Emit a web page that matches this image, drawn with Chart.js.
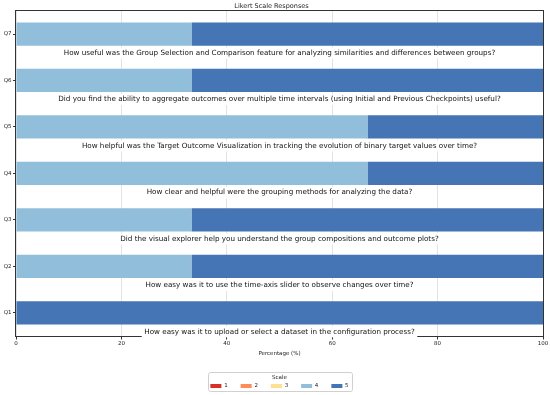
<!DOCTYPE html>
<html>
<head>
<meta charset="utf-8">
<script src="https://cdn.jsdelivr.net/npm/chart.js@4.4.1/dist/chart.umd.min.js"></script>
<style>
  html,body{margin:0;padding:0;background:#fff}
  canvas{display:block}
</style>
</head>
<body>
<canvas id="likert" width="550" height="395"></canvas>
<script>
// data (percent of respondents per answer)
const categories=['Q1','Q2','Q3','Q4','Q5','Q6','Q7'];
const questions=[
  'How easy was it to upload or select a dataset in the configuration process?',
  'How easy was it to use the time-axis slider to observe changes over time?',
  'Did the visual explorer help you understand the group compositions and outcome plots?',
  'How clear and helpful were the grouping methods for analyzing the data?',
  'How helpful was the Target Outcome Visualization in tracking the evolution of binary target values over time?',
  'Did you find the ability to aggregate outcomes over multiple time intervals (using Initial and Previous Checkpoints) useful?',
  'How useful was the Group Selection and Comparison feature for analyzing similarities and differences between groups?'
];
const scaleLabels=['1','2','3','4','5'];
const scale1=[0,0,0,0,0,0,0];
const scale2=[0,0,0,0,0,0,0];
const scale3=[0,0,0,0,0,0,0];
const scale4=[0,33.3,33.3,66.7,66.7,33.3,33.3];
const scale5=[100,66.7,66.7,33.3,33.3,66.7,66.7];
const xTicks=[0,20,40,60,80,100];
const colors=['#d73027','#fc8d59','#fee090','#91bfdb','#4575b4'];

Chart.defaults.font.family="'DejaVu Sans', sans-serif";
Chart.defaults.color='#222';

const series=[scale1,scale2,scale3,scale4,scale5];

// frame, question captions and legend box
const extras={
  id:'extras',
  afterLayout(c){
    const L=c.legend,a=c.chartArea;
    const dx=(a.left+a.right)/2-(L.left+L.right)/2;
    L.left+=dx;L.right+=dx;
  },
  afterDraw(c){
    const ctx=c.ctx,a=c.chartArea,xs=c.scales.x,ys=c.scales.y;
    ctx.save();
    ctx.strokeStyle='#333';ctx.lineWidth=1;
    ctx.strokeRect(Math.round(a.left)-0.5,Math.round(a.top)-0.5,Math.round(a.right-a.left)+1,Math.round(a.bottom-a.top)+1);

    ctx.font="7.2px 'DejaVu Sans', sans-serif";
    ctx.textAlign='center';ctx.textBaseline='middle';
    questions.forEach((q,i)=>{
      const x=xs.getPixelForValue(50),y=ys.getPixelForValue(i-0.41);
      const w=ctx.measureText(q).width;
      ctx.fillStyle='#fff';
      ctx.fillRect(x-w/2-2.5,y-5.5,w+5,11);
      ctx.fillStyle='#111';
      ctx.fillText(q,x,y);
    });

    const L=c.legend,hb=L.legendHitBoxes;
    if(hb&&hb.length){
      const last=hb[hb.length-1];
      const x0=hb[0].left-2.5,x1=last.left+last.width+3;
      const y0=hb[0].top-11.5,y1=hb[0].top+7.5;
      ctx.strokeStyle='#d0d0d0';ctx.lineWidth=1;
      ctx.beginPath();
      ctx.roundRect(Math.round(x0)+0.5,Math.round(y0)+0.5,Math.round(x1-x0),Math.round(y1-y0),2);
      ctx.stroke();
    }
    ctx.restore();
  }
};

new Chart(document.getElementById('likert'),{
  type:'bar',
  data:{
    labels:categories,
    datasets:series.map((d,i)=>({
      label:scaleLabels[i],data:d,backgroundColor:colors[i],borderWidth:0,
      barPercentage:0.5,categoryPercentage:1
    }))
  },
  options:{
    indexAxis:'y',
    responsive:false,
    animation:false,
    events:[],
    layout:{padding:{top:0,left:0,right:7,bottom:-3.75}},
    scales:{
      x:{
        type:'linear',stacked:true,min:0,max:100,z:1,
        afterBuildTicks:s=>{s.ticks=xTicks.map(v=>({value:v}));},
        afterFit:s=>{s.height=21.3;},
        ticks:{font:{size:5.5},padding:1,maxRotation:0},
        grid:{color:'rgba(176,176,176,0.35)',tickColor:'#333',tickLength:3.5},
        border:{display:false},
        title:{display:true,text:'Percentage (%)',font:{size:5.5},padding:{top:0,bottom:0}}
      },
      y:{
        type:'category',stacked:true,reverse:true,
        afterFit:s=>{s.width=16;},
        ticks:{font:{size:5.5},padding:1.5},
        grid:{drawOnChartArea:false,offset:false,tickLength:3,tickColor:'#333'},
        border:{display:false}
      }
    },
    plugins:{
      title:{display:true,text:'Likert Scale Responses',font:{size:6.5,weight:'normal'},padding:{top:2,bottom:1}},
      legend:{
        position:'bottom',
        labels:{boxWidth:11,boxHeight:4,padding:13,font:{size:5.5}},
        title:{display:true,text:'Scale',font:{size:5.5},padding:{top:17.65,bottom:-11.3}}
      },
      tooltip:{enabled:false}
    }
  },
  plugins:[extras]
});
</script>
</body>
</html>
